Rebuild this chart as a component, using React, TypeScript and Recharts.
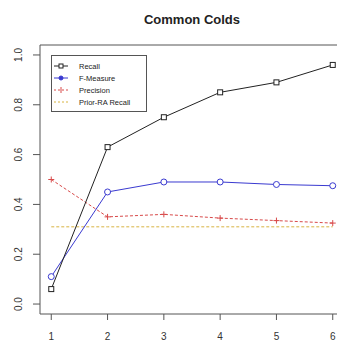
import React from 'react';
import { LineChart, Line, XAxis, YAxis, ReferenceArea, Legend, Customized } from 'recharts';

const steps = [1, 2, 3, 4, 5, 6];
const recall = [0.06, 0.63, 0.75, 0.85, 0.89, 0.96];
const fMeasure = [0.11, 0.45, 0.49, 0.49, 0.48, 0.475];
const precision = [0.5, 0.35, 0.36, 0.345, 0.335, 0.325];
const priorRecall = [0.31, 0.31, 0.31, 0.31, 0.31, 0.31];
const xTicks = [1, 2, 3, 4, 5, 6];
const yTicks = [0, 0.2, 0.4, 0.6, 0.8, 1.0];
const yTickLabels = ['0.0', '0.2', '0.4', '0.6', '0.8', '1.0'];
const title = 'Common Colds';

const seriesNames = ['Recall', 'F-Measure', 'Precision', 'Prior-RA Recall'];
const COLORS = { recall: '#222', f: '#3a3ad0', p: '#d84a4a', prior: '#d8b440', axis: '#555', text: '#333' };

const data = steps.map((s, i) => ({
  step: s,
  recall: recall[i],
  fMeasure: fMeasure[i],
  precision: precision[i],
  prior: priorRecall[i],
}));

const FONT = 'Liberation Sans, Arial, sans-serif';

const SquareDot = (props: any) => {
  const { cx, cy } = props;
  if (cx == null || cy == null) return null;
  return <rect x={cx - 2.5} y={cy - 2.5} width={5} height={5} fill="#fff" stroke={COLORS.recall} strokeWidth={1} />;
};
const CircleDot = (props: any) => {
  const { cx, cy } = props;
  if (cx == null || cy == null) return null;
  return <circle cx={cx} cy={cy} r={3} fill="#fff" stroke={COLORS.f} strokeWidth={1} />;
};
const PlusDot = (props: any) => {
  const { cx, cy } = props;
  if (cx == null || cy == null) return null;
  return (
    <g stroke={COLORS.p} strokeWidth={1}>
      <line x1={cx - 3} y1={cy} x2={cx + 3} y2={cy} />
      <line x1={cx} y1={cy - 3} x2={cx} y2={cy + 3} />
    </g>
  );
};

const YTick = (props: any) => {
  const { x, y, index } = props;
  const tx = x - 12;
  return (
    <text x={tx} y={y} transform={`rotate(-90 ${tx} ${y})`} textAnchor="middle" dominantBaseline="central"
      fontSize={10} fontFamily={FONT} fill={COLORS.text}>
      {yTickLabels[index]}
    </text>
  );
};
const XTick = (props: any) => {
  const { x, y, payload } = props;
  return (
    <text x={x} y={y + 14} textAnchor="middle" dominantBaseline="central" fontSize={10} fontFamily={FONT} fill={COLORS.text}>
      {payload.value}
    </text>
  );
};

const LegendBox = () => {
  const rows = [
    { name: seriesNames[0], color: COLORS.recall, dash: undefined, mark: 'square' },
    { name: seriesNames[1], color: COLORS.f, dash: undefined, mark: 'circle' },
    { name: seriesNames[2], color: COLORS.p, dash: '2 2', mark: 'plus' },
    { name: seriesNames[3], color: COLORS.prior, dash: '2 2', mark: 'none' },
  ];
  return (
    <svg width={96} height={57} style={{ display: 'block' }}>
      <rect x={0.5} y={0.5} width={95} height={56} fill="#fff" stroke={COLORS.axis} strokeWidth={1} />
      {rows.map((r, i) => {
        const cy = 11 + i * 12;
        return (
          <g key={r.name}>
            <line x1={3} y1={cy} x2={17} y2={cy} stroke={r.color} strokeWidth={1} strokeDasharray={r.dash} />
            {r.mark === 'square' && <rect x={8} y={cy - 2} width={4} height={4} fill="#fff" stroke={r.color} />}
            {r.mark === 'circle' && <circle cx={10} cy={cy} r={2} fill={r.color} stroke={r.color} />}
            {r.mark === 'plus' && <line x1={10} y1={cy - 3} x2={10} y2={cy + 3} stroke={r.color} />}
            <text x={28} y={cy} dominantBaseline="central" fontSize={7.5} fontFamily={FONT} fill="#222">{r.name}</text>
          </g>
        );
      })}
    </svg>
  );
};

const Title = (props: any) => {
  const { offset } = props;
  const cx = offset ? offset.left + offset.width / 2 : 192;
  return (
    <text x={cx} y={19} textAnchor="middle" dominantBaseline="central" fontSize={13} fontWeight="bold" fontFamily={FONT} fill="#222">
      {title}
    </text>
  );
};

export default function App() {
  return (
    <div style={{ position: 'fixed', left: 0, top: 0, width: 337, height: 342, overflow: 'hidden', background: '#fff' }}>
      <LineChart width={350} height={342} data={data} margin={{ top: 45, right: 6, bottom: 0, left: 0 }}>
        <XAxis dataKey="step" type="number" domain={[0.8, 6.2]} ticks={xTicks} height={28} tickSize={6}
          axisLine={false} tickLine={{ stroke: COLORS.axis }} tick={<XTick />} interval={0} allowDataOverflow />
        <YAxis type="number" domain={[-0.04, 1.04]} ticks={yTicks} width={40} tickSize={7}
          axisLine={false} tickLine={{ stroke: COLORS.axis }} tick={<YTick />} interval={0} allowDataOverflow />
        <ReferenceArea x1={0.8} x2={6.2} y1={-0.04} y2={1.04} fill="none" stroke={COLORS.axis} strokeWidth={1} ifOverflow="visible" />
        <Line dataKey="prior" stroke={COLORS.prior} strokeDasharray="3 2" dot={false} strokeWidth={1} isAnimationActive={false} />
        <Line dataKey="precision" stroke={COLORS.p} strokeDasharray="3 2" dot={<PlusDot />} strokeWidth={1} isAnimationActive={false} />
        <Line dataKey="fMeasure" stroke={COLORS.f} dot={<CircleDot />} strokeWidth={1} isAnimationActive={false} />
        <Line dataKey="recall" stroke={COLORS.recall} dot={<SquareDot />} strokeWidth={1} isAnimationActive={false} />
        <Legend content={<LegendBox />} layout="vertical" align="center" verticalAlign="middle"
          wrapperStyle={{ position: 'absolute', left: 51, top: 55, width: 96, height: 57 }} />
        <Customized component={Title} />
      </LineChart>
    </div>
  );
}
